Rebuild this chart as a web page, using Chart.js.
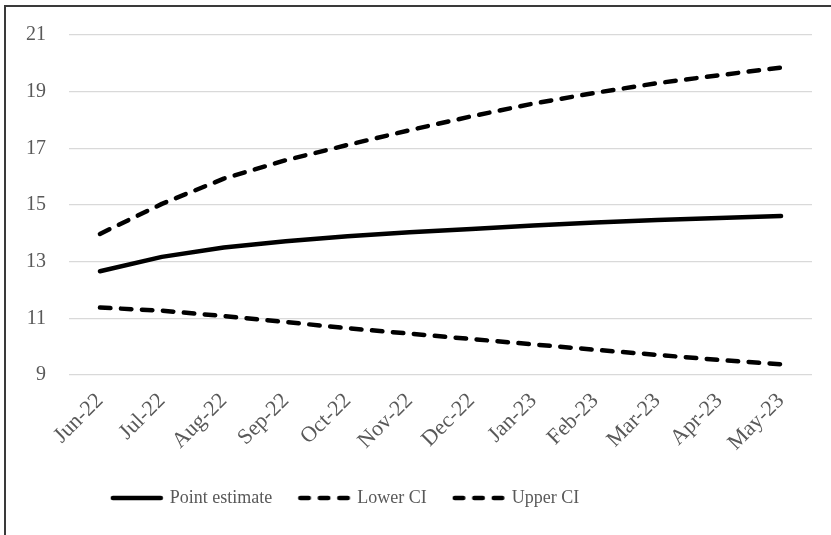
<!DOCTYPE html>
<html>
<head>
<meta charset="utf-8">
<script src="https://cdn.jsdelivr.net/npm/chart.js@4.4.0/dist/chart.umd.min.js"></script>
<style>
  html, body { margin: 0; padding: 0; background: #fff; }
  #wrap { position: relative; width: 831px; height: 535px; overflow: hidden; }
  #frame { position: absolute; left: 4px; top: 5px; width: 900px; height: 600px;
           border-left: 2px solid #3a3a3a; border-top: 2px solid #3a3a3a; box-sizing: border-box; }
  canvas { position: absolute; left: 0; top: 0; }
</style>
</head>
<body>
<div id="wrap">
  <div id="frame"></div>
  <canvas id="c" width="831" height="535"></canvas>
</div>
<script>
const categories = ['Jun-22','Jul-22','Aug-22','Sep-22','Oct-22','Nov-22','Dec-22','Jan-23','Feb-23','Mar-23','Apr-23','May-23'];
const pointEstimate = [12.66, 13.17, 13.5, 13.72, 13.9, 14.04, 14.15, 14.28, 14.38, 14.47, 14.54, 14.61];
const lowerCI = [11.38, 11.27, 11.08, 10.87, 10.65, 10.46, 10.27, 10.08, 9.89, 9.71, 9.53, 9.38];
const upperCI = [13.98, 15.04, 15.93, 16.58, 17.12, 17.64, 18.13, 18.58, 18.96, 19.3, 19.58, 19.85];
const seriesNames = ['Point estimate', 'Lower CI', 'Upper CI'];
const yTicks = [9, 11, 13, 15, 17, 19, 21];

const FONT = "'Liberation Serif', 'Times New Roman', serif";
const GRAY = '#595959';

function legendSwatch(dashed) {
  const c = document.createElement('canvas');
  c.width = 54; c.height = 8;
  const g = c.getContext('2d');
  g.strokeStyle = '#000';
  g.lineWidth = 4.5;
  g.lineCap = 'round';
  g.setLineDash(dashed ? [8.5, 11] : []);
  g.beginPath();
  g.moveTo(3, 4); g.lineTo(51, 4);
  g.stroke();
  return c;
}
const swatches = [legendSwatch(false), legendSwatch(true), legendSwatch(true)];

function lineDs(label, data, dash) {
  return {
    label, data,
    borderColor: '#000', backgroundColor: '#000',
    borderWidth: 4.5, borderDash: dash, borderCapStyle: 'round', borderJoinStyle: 'round',
    pointRadius: 0, pointHoverRadius: 0,
    tension: 0, fill: false
  };
}

new Chart(document.getElementById('c'), {
  type: 'line',
  data: {
    labels: categories,
    datasets: [
      lineDs(seriesNames[0], pointEstimate, []),
      lineDs(seriesNames[1], lowerCI, [10.5, 10.5]),
      lineDs(seriesNames[2], upperCI, [10.5, 10.5])
    ]
  },
  options: {
    responsive: false,
    animation: false,
    events: [],
    layout: { padding: { left: 26, right: 19, top: 35, bottom: 18 } },
    scales: {
      x: {
        offset: true,
        grid: { display: false, drawTicks: false },
        border: { display: false },
        ticks: { color: GRAY, font: { family: FONT, size: 22 }, minRotation: 45, maxRotation: 45, padding: 13, autoSkip: false },
        afterFit: (axis) => { axis.height = 86; }
      },
      y: {
        min: 9, max: 21,
        afterBuildTicks: (axis) => { axis.ticks = yTicks.map(v => ({ value: v })); },
        grid: { color: '#d9d9d9', lineWidth: 1.3, drawTicks: false },
        border: { display: false },
        ticks: { color: GRAY, font: { family: FONT, size: 20 }, padding: 23 },
        afterFit: (axis) => { axis.width = 43; }
      }
    },
    plugins: {
      legend: {
        position: 'bottom',
        align: 'center',
        labels: {
          color: GRAY,
          font: { family: FONT, size: 18 },
          usePointStyle: true,
          pointStyleWidth: 48,
          padding: 28,
          boxHeight: 18,
          generateLabels: (chart) => chart.data.datasets.map((ds, i) => ({
            text: ds.label,
            fillStyle: '#000',
            strokeStyle: '#000',
            lineWidth: 0,
            pointStyle: swatches[i],
            fontColor: GRAY,
            hidden: false,
            datasetIndex: i
          }))
        }
      },
      tooltip: { enabled: false }
    }
  },
  plugins: [{
    id: 'shiftLegend',
    afterLayout(chart) {
      const lg = chart.legend;
      if (lg) { lg.left -= 73; lg.right -= 73; }
    }
  }]
});
</script>
</body>
</html>
